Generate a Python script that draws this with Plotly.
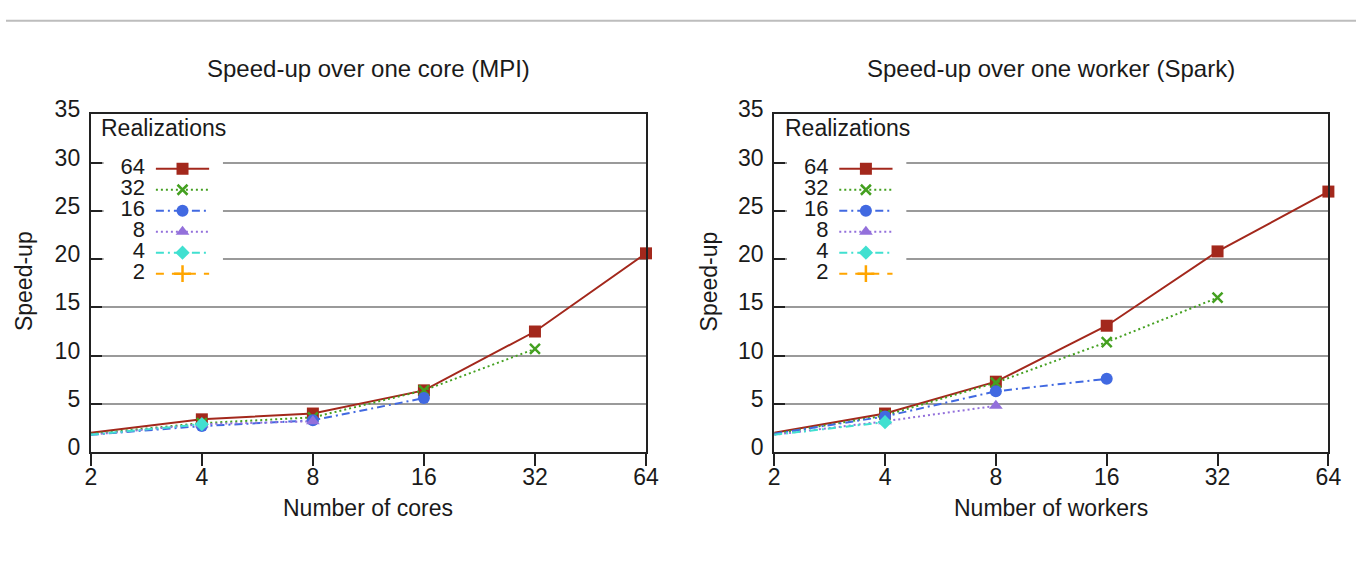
import plotly.graph_objects as go

W, H = 1369, 567

# ---------------- data ----------------
nodes = [2, 4, 8, 16, 32, 64]
realizations = ["64", "32", "16", "8", "4", "2"]

mpi_64 = [2.0, 3.4, 4.0, 6.4, 12.5, 20.6]
mpi_32 = [1.9, 3.0, 3.6, 6.4, 10.7]
mpi_16 = [1.8, 2.7, 3.3, 5.6]
mpi_8 = [1.8, 2.9, 3.2]
mpi_4 = [1.8, 2.9]
mpi_2 = [1.8]

spark_64 = [2.0, 4.0, 7.3, 13.1, 20.8, 27.0]
spark_32 = [1.9, 3.8, 7.2, 11.4, 16.0]
spark_16 = [1.9, 3.7, 6.3, 7.6]
spark_8 = [1.8, 3.2, 4.8]
spark_4 = [1.8, 3.1]
spark_2 = [1.7]

y_ticks = [0, 5, 10, 15, 20, 25, 30, 35]

titles = ["Speed-up over one core (MPI)", "Speed-up over one worker (Spark)"]
x_titles = ["Number of cores", "Number of workers"]
y_title = "Speed-up"
legend_title = "Realizations"

# ---------------- styles ----------------
colors = ["#a3281c", "#44a020", "#4169e1", "#9370db", "#40e0d0", "#ffa500"]
symbols = ["square", "x-thin", "circle", "triangle-up", "diamond", "cross-thin"]
sizes = [12, 10, 12, 12, 11, 12]
dashes = ["solid", "2px,3px", "8px,4px,2px,4px", "2px,3px", "8px,4px,2px,4px", "8px,8px"]

FONT = "Liberation Sans"
TXT = "#1a1a1a"


def px(x):
    return x / W


def py(y):
    return 1 - y / H


def marker_style(i):
    return dict(symbol=symbols[i], size=sizes[i], color=colors[i], opacity=1,
                line=dict(color=colors[i], width=2.5 if symbols[i].endswith("thin") else 0))


fig = go.Figure()

panels = [
    [mpi_64, mpi_32, mpi_16, mpi_8, mpi_4, mpi_2],
    [spark_64, spark_32, spark_16, spark_8, spark_4, spark_2],
]
x_dom = [[px(86), px(649)], [px(779), px(1341)]]
y_dom = [py(455), py(101)]

for p, series in enumerate(panels):
    xa = "x" if p == 0 else "x2"
    ya = "y" if p == 0 else "y2"
    for i, vals in enumerate(series):
        fig.add_trace(go.Scatter(
            x=nodes[:len(vals)], y=vals, xaxis=xa, yaxis=ya,
            mode="lines+markers", showlegend=False, cliponaxis=False,
            line=dict(color=colors[i], width=2, dash=dashes[i]),
            marker=marker_style(i),
        ))

# ---------------- legend insets (white box over the grid) ----------------
leg_x0 = [99, 792]
for p in range(2):
    xa = "x%d" % (p + 3)
    ya = "y%d" % (p + 3)
    base = leg_x0[p]
    for i, name in enumerate(realizations):
        row_y = 158 + 22 * i
        fig.add_trace(go.Scatter(
            x=[base + 53, base + 107], y=[row_y, row_y], xaxis=xa, yaxis=ya,
            mode="lines", showlegend=False, cliponaxis=False,
            line=dict(color=colors[i], width=2, dash=dashes[i]),
        ))
        fig.add_trace(go.Scatter(
            x=[base + 80], y=[row_y], xaxis=xa, yaxis=ya,
            mode="markers", showlegend=False, cliponaxis=False,
            marker=marker_style(i),
        ))
        fig.add_trace(go.Scatter(
            x=[base + 42], y=[row_y], xaxis=xa, yaxis=ya,
            mode="text", text=[name], textposition="middle left",
            showlegend=False, cliponaxis=False,
            textfont=dict(family=FONT, size=22, color=TXT),
        ))

axis_common = dict(
    showline=True, mirror=True, linecolor="#222", linewidth=2,
    tickfont=dict(family=FONT, size=23, color=TXT),
)

layout = dict(
    width=W, height=H, autosize=False,
    margin=dict(l=0, r=0, t=0, b=0, pad=0),
    paper_bgcolor="white", plot_bgcolor="white",
    showlegend=False,
)

for p in range(2):
    sx = "" if p == 0 else "2"
    layout["xaxis" + sx] = dict(
        axis_common, domain=x_dom[p], anchor="y" + sx, type="log",
        range=[0.30103, 1.80618], tickvals=nodes, ticktext=[str(n) for n in nodes],
        ticks="outside", ticklen=12, tickwidth=2, tickcolor="#222",
        showgrid=False, zeroline=False, ticklabelstandoff=-9,
    )
    layout["yaxis" + sx] = dict(
        axis_common, domain=y_dom, anchor="x" + sx,
        range=[0, 35], tickvals=y_ticks,
        ticks="inside", ticklen=11, tickwidth=2, tickcolor="#222",
        showgrid=True, gridcolor="#9a9a9a", gridwidth=1.5, zeroline=False,
        ticklabelstandoff=4, ticklabelshift=-5,
    )

for p in range(2):
    n = str(p + 3)
    b = leg_x0[p]
    layout["xaxis" + n] = dict(domain=[px(b), px(b + 121)], anchor="y" + n,
                               range=[b, b + 121], visible=False)
    layout["yaxis" + n] = dict(domain=[py(285), py(103)], anchor="x" + n,
                               range=[285, 103], visible=False)

fig.update_layout(**layout)

centers = [(86 + 649) / 2, (779 + 1341) / 2]
ann = []
for p in range(2):
    ann.append(dict(text=titles[p], x=px(centers[p]), y=py(53), xref="paper", yref="paper",
                    showarrow=False, xanchor="center", yanchor="middle",
                    font=dict(family=FONT, size=24, color=TXT)))
    ann.append(dict(text=x_titles[p], x=px(centers[p]), y=py(514), xref="paper", yref="paper",
                    showarrow=False, xanchor="center", yanchor="middle",
                    font=dict(family=FONT, size=23, color=TXT)))
    ann.append(dict(text=y_title, x=px([19, 713][p]), y=py(276), xref="paper", yref="paper",
                    showarrow=False, xanchor="center", yanchor="middle", textangle=-90,
                    font=dict(family=FONT, size=23, color=TXT)))
    ann.append(dict(text=legend_title, x=px([94, 788][p]), y=py(115), xref="paper", yref="paper",
                    showarrow=False, xanchor="left", yanchor="middle",
                    font=dict(family=FONT, size=23, color=TXT)))
fig.update_layout(annotations=ann)

# thin grey rule across the very top of the page
fig.add_shape(type="line", xref="paper", yref="paper", x0=0, x1=1, y0=py(3), y1=py(3),
              line=dict(color="#bdbdbd", width=2))

fig.write_html("out.html", config={"responsive": False})
